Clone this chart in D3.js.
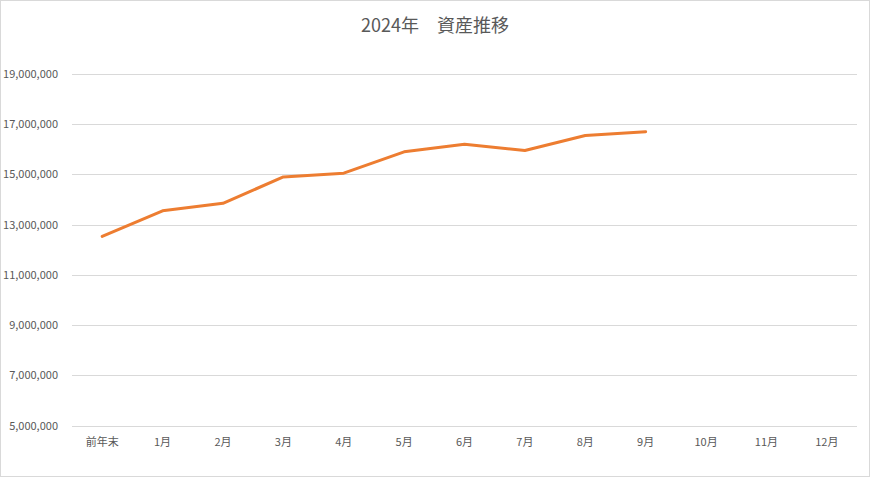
<!DOCTYPE html>
<html>
<head>
<meta charset="utf-8">
<script src="https://cdn.jsdelivr.net/npm/d3@7"></script>
<style>
  body { margin: 0; background: #fff; }
</style>
</head>
<body>
<script>
// Data
var categories = ["前年末", "1月", "2月", "3月", "4月", "5月", "6月", "7月", "8月", "9月", "10月", "11月", "12月"];
var assets = [12530000, 13550000, 13850000, 14900000, 15050000, 15900000, 16200000, 15950000, 16550000, 16700000];
var yTicks = [5000000, 7000000, 9000000, 11000000, 13000000, 15000000, 17000000, 19000000];
var title = "2024年　資産推移";

function chart() {
  var w = 870;
  var h = 477;
  var left = 72, right = 857;
  var top = 74, bottom = 425.5;
  var font = "'Noto Sans CJK JP', 'Noto Sans', sans-serif";

  var svg = d3.select("body")
              .append("svg")
              .attr("width", w)
              .attr("height", h);

  // Border
  svg.append("rect")
     .attr("x", 0.5).attr("y", 0.5)
     .attr("width", w - 1).attr("height", h - 1)
     .attr("fill", "#fff")
     .attr("stroke", "#d9d9d9");

  var x = d3.scaleBand()
            .domain(categories)
            .range([left, right]);

  var y = d3.scaleLinear()
            .domain([5000000, 19000000])
            .range([bottom, top]);

  // Grid lines
  svg.selectAll("line.grid")
     .data(yTicks)
     .enter()
     .append("line")
     .attr("class", "grid")
     .attr("x1", left)
     .attr("x2", right)
     .attr("y1", function (d) { return Math.round(y(d)) + 0.5; })
     .attr("y2", function (d) { return Math.round(y(d)) + 0.5; })
     .attr("stroke", "#d9d9d9")
     .attr("stroke-width", 1);

  // Y labels
  svg.selectAll("text.ylab")
     .data(yTicks)
     .enter()
     .append("text")
     .attr("class", "ylab")
     .text(function (d) { return d3.format(",")(d); })
     .attr("text-anchor", "end")
     .attr("x", 58)
     .attr("y", function (d) { return y(d) + 4; })
     .attr("font-family", font)
     .attr("font-size", "11px")
     .attr("fill", "#595959");

  // X labels
  svg.selectAll("text.xlab")
     .data(categories)
     .enter()
     .append("text")
     .attr("class", "xlab")
     .text(function (d) { return d; })
     .attr("text-anchor", "middle")
     .attr("x", function (d) { return x(d) + x.bandwidth() / 2; })
     .attr("y", 446)
     .attr("font-family", font)
     .attr("font-size", "11px")
     .attr("fill", "#595959");

  // Line
  var line = d3.line()
               .x(function (d, i) { return x(categories[i]) + x.bandwidth() / 2; })
               .y(function (d) { return y(d); });

  svg.append("path")
     .datum(assets)
     .attr("d", line)
     .attr("fill", "none")
     .attr("stroke", "#ED7D31")
     .attr("stroke-width", 3)
     .attr("stroke-linejoin", "round")
     .attr("stroke-linecap", "round");

  // Title
  svg.append("text")
     .text(title)
     .attr("text-anchor", "middle")
     .attr("x", 435)
     .attr("y", 32)
     .attr("font-family", font)
     .attr("font-size", "18px")
     .attr("fill", "#595959");
}

chart();
</script>
</body>
</html>
